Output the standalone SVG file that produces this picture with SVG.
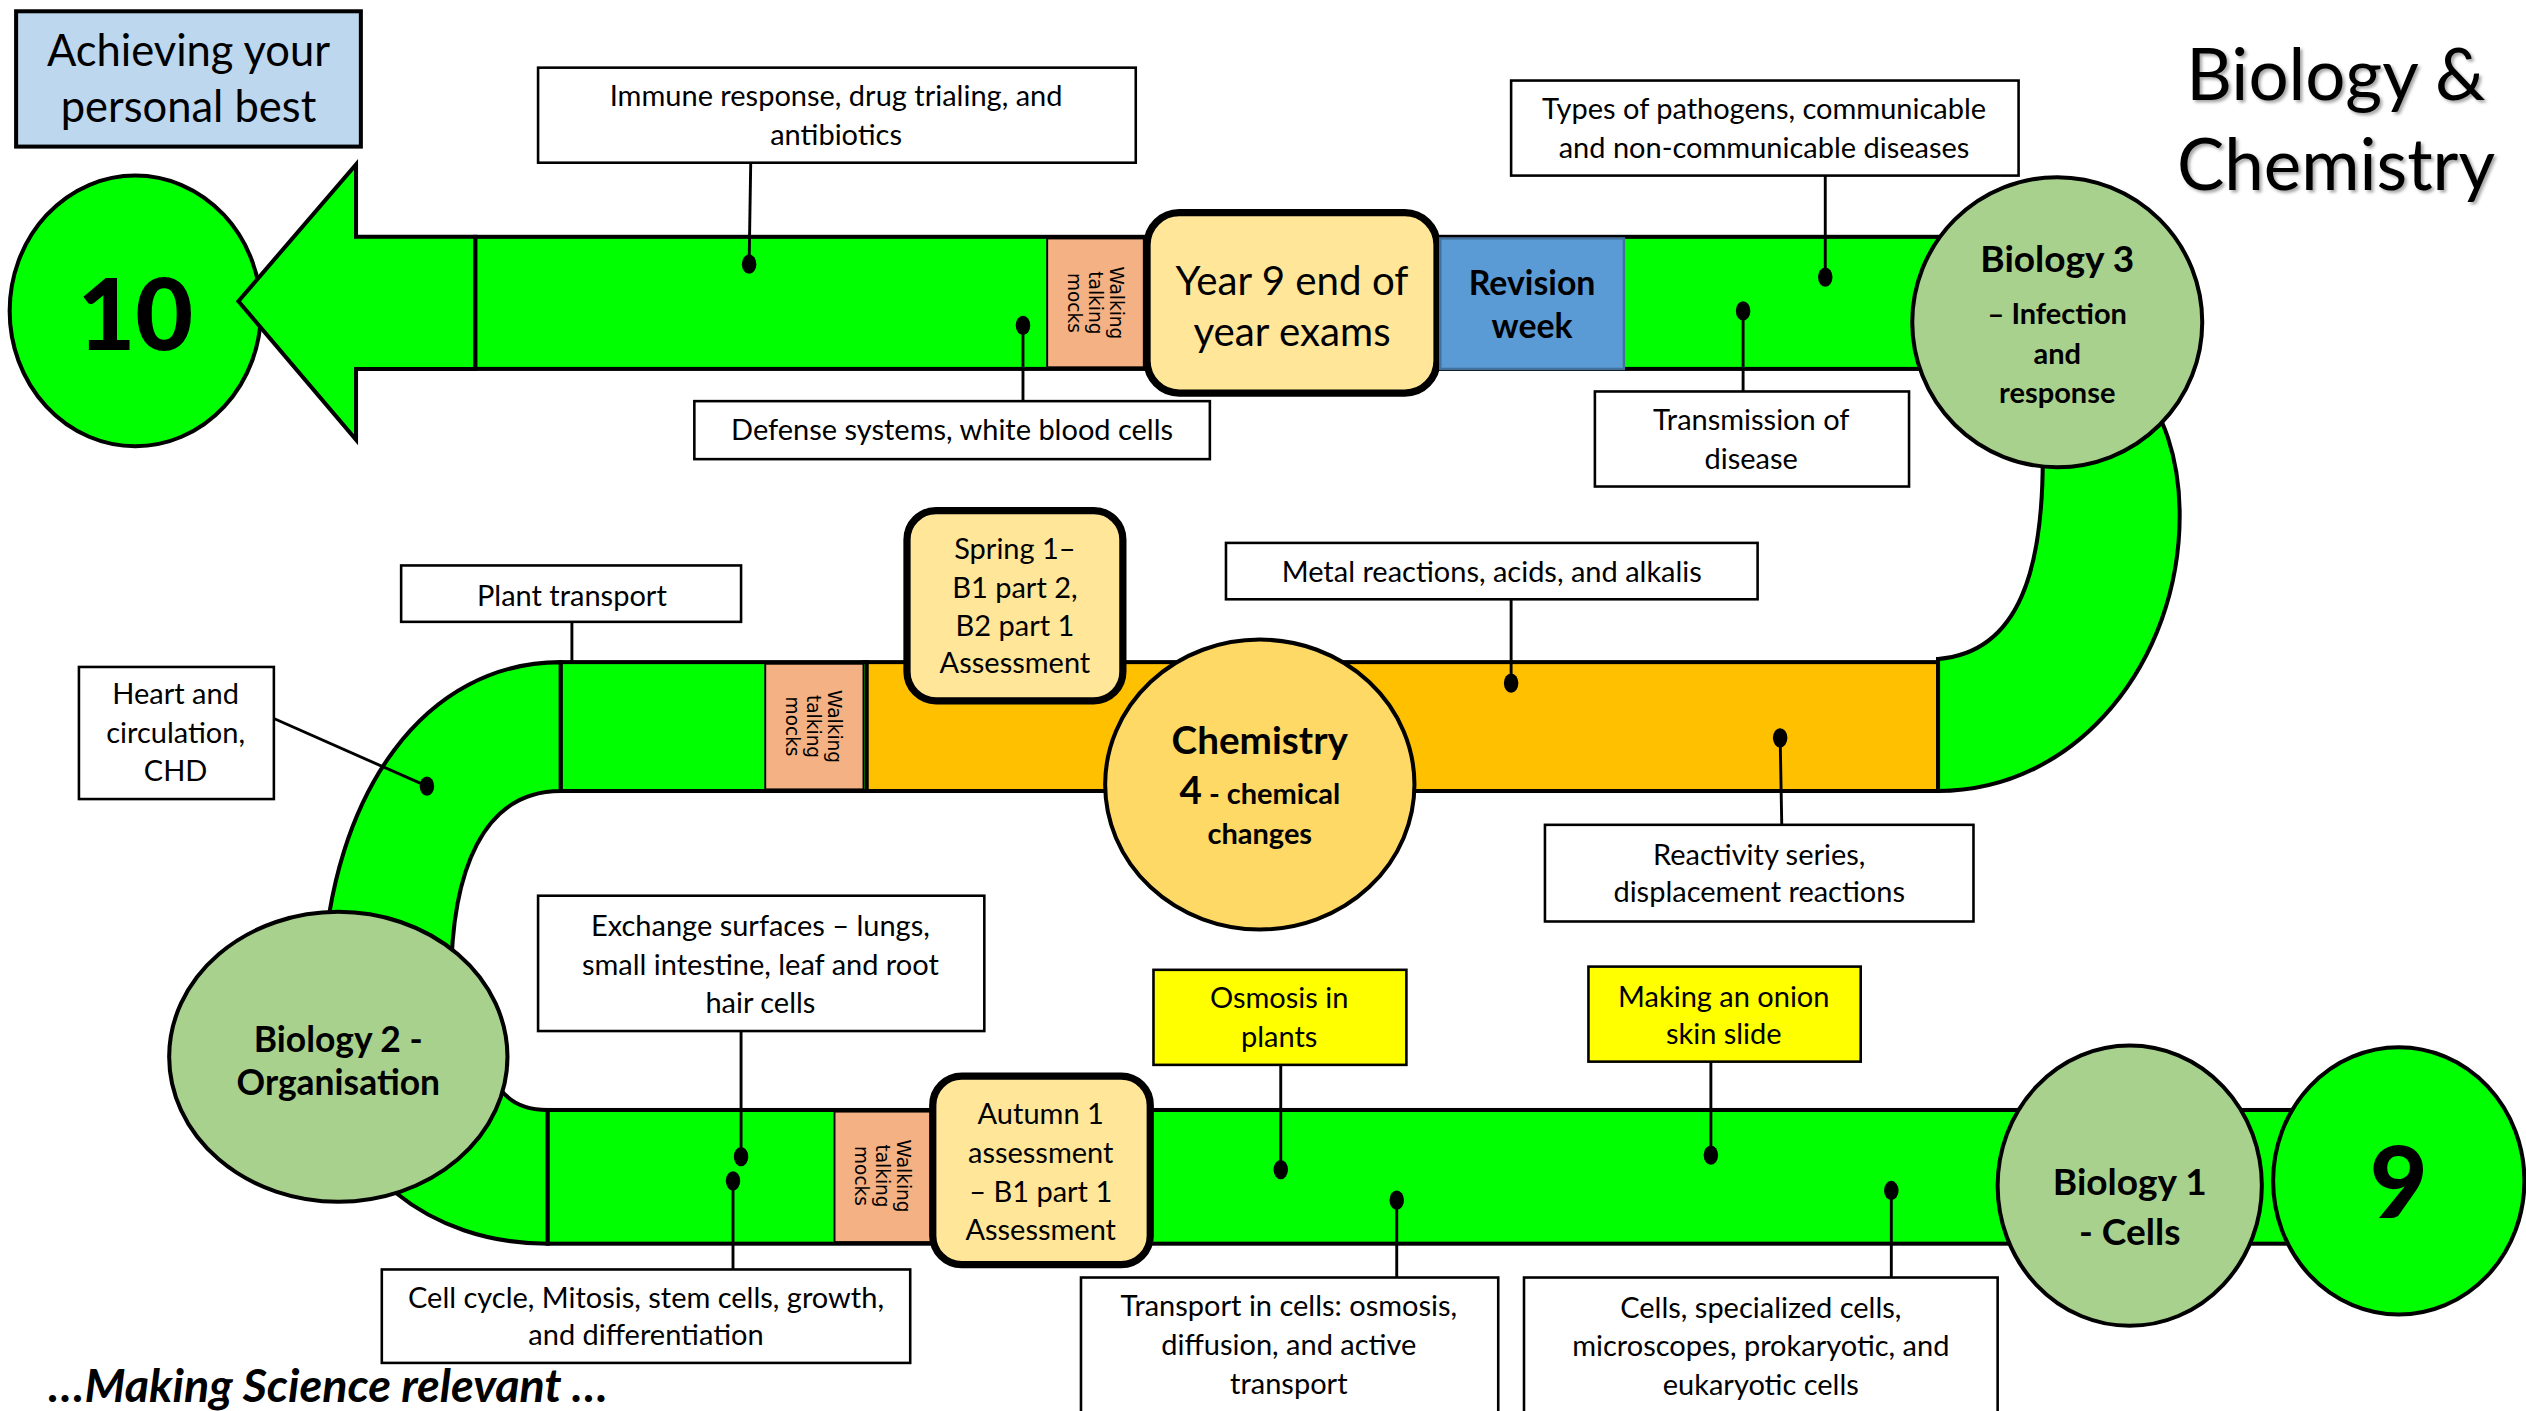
<svg xmlns="http://www.w3.org/2000/svg" width="2526" height="1411" viewBox="0 0 2526 1411">
<defs>
<style>
.t{font-family:Lato,"Liberation Sans",sans-serif;fill:#000}
.c{font-size:18px;text-anchor:middle}
.b{font-weight:bold}
.m{font-family:"DejaVu Sans",Verdana,sans-serif;font-size:11.5px;text-anchor:middle}
.box{fill:#fff;stroke:#000;stroke-width:1.6}
.yel{fill:#FFFF00;stroke:#000;stroke-width:1.6}
.band{stroke:#000;stroke-width:2.5}
.g{fill:#00FF00}
.mock{fill:#F4B183;stroke:#000;stroke-width:1.2}
.asm{fill:#FFE699;stroke:#000;stroke-width:4.5}
.bio{fill:#A9D18E;stroke:#000;stroke-width:2.5}
.ln{stroke:#000;stroke-width:1.8;fill:none}
.dot{fill:#000}
</style>
<filter id="sh" x="-10%" y="-10%" width="130%" height="130%">
<feDropShadow dx="1.5" dy="1.5" stdDeviation="1" flood-color="#000" flood-opacity="0.35"/>
</filter>
</defs>
<rect width="2526" height="1411" fill="#fff"/>
<g transform="scale(1.611)">
<g id="bands">
<rect class="band g" x="295" y="147" width="940" height="82"/>
<path class="band g" d="M1200,229 L1268,285 C1268,350 1255,405 1203,409 L1203,491 C1290,491 1353,410 1353,320 C1353,285 1343,255 1325,235 Z"/>
<rect class="band" fill="#FFC000" x="536" y="411" width="667" height="80"/>
<rect class="band g" x="348" y="411" width="190" height="80"/>
<path class="band g" d="M348,411 C265,411 205,490 200,610 L200,660 C210,725 265,772 340,772 L340,689 C325,689 314,683 308,672 L280,610 C280,540 300,491 348,491 Z"/>
<rect class="band g" x="340" y="689" width="1090" height="83"/>
</g>
<g id="mocks">
<rect class="mock" x="650" y="148" width="60" height="80"/>
<text class="m" transform="translate(680,188) rotate(90)"><tspan x="0" y="-9">Walking</tspan><tspan x="0" y="4">talking</tspan><tspan x="0" y="17">mocks</tspan></text>
<rect class="mock" x="475" y="412" width="61" height="78"/>
<text class="m" transform="translate(505,451) rotate(90)"><tspan x="0" y="-9">Walking</tspan><tspan x="0" y="4">talking</tspan><tspan x="0" y="17">mocks</tspan></text>
<rect class="mock" x="518" y="690" width="60" height="81"/>
<text class="m" transform="translate(548,730) rotate(90)"><tspan x="0" y="-9">Walking</tspan><tspan x="0" y="4">talking</tspan><tspan x="0" y="17">mocks</tspan></text>
</g>
<g id="connectors">
<path class="ln" d="M466,101 L465,164"/><ellipse class="dot" cx="465" cy="164" rx="4.5" ry="6"/>
<path class="ln" d="M635,249 L635,202"/><ellipse class="dot" cx="635" cy="202" rx="4.5" ry="6"/>
<path class="ln" d="M1133,109 L1133,172"/><ellipse class="dot" cx="1133" cy="172" rx="4.5" ry="6"/>
<path class="ln" d="M1082,243 L1082,193"/><ellipse class="dot" cx="1082" cy="193" rx="4.5" ry="6"/>
<path class="ln" d="M938,372 L938,424"/><ellipse class="dot" cx="938" cy="424" rx="4.5" ry="6"/>
<path class="ln" d="M1106,512 L1105,458"/><ellipse class="dot" cx="1105" cy="458" rx="4.5" ry="6"/>
<path class="ln" d="M355,386 L355,411"/>
<path class="ln" d="M170,446 L265,488"/><ellipse class="dot" cx="265" cy="488" rx="4.5" ry="6"/>
<path class="ln" d="M460,640 L460,718"/><ellipse class="dot" cx="460" cy="718" rx="4.5" ry="6"/>
<path class="ln" d="M455,788 L455,733"/><ellipse class="dot" cx="455" cy="733" rx="4.5" ry="6"/>
<path class="ln" d="M795,661 L795,726"/><ellipse class="dot" cx="795" cy="726" rx="4.5" ry="6"/>
<path class="ln" d="M1062,659 L1062,717"/><ellipse class="dot" cx="1062" cy="717" rx="4.5" ry="6"/>
<path class="ln" d="M867,793 L867,745"/><ellipse class="dot" cx="867" cy="745" rx="4.5" ry="6"/>
<path class="ln" d="M1174,793 L1174,739"/><ellipse class="dot" cx="1174" cy="739" rx="4.5" ry="6"/>
</g>
<g id="circle10">
<ellipse class="band g" cx="84" cy="193" rx="78" ry="84"/>
<text class="t" x="84" y="217" font-size="62" font-weight="900" text-anchor="middle">10</text>
</g>
<g id="arrow">
<polygon class="band g" points="221,102 221,147 295,147 295,229 221,229 221,273 148,187"/>
</g>
<g id="achieving">
<rect x="10" y="7" width="214" height="84" fill="#BDD7EE" stroke="#000" stroke-width="2.5"/>
<text class="t" x="117" y="41" font-size="27" text-anchor="middle">Achieving your</text>
<text class="t" x="117" y="76" font-size="27" text-anchor="middle">personal best</text>
</g>
<g id="title" filter="url(#sh)">
<text class="t" x="1450" y="62" font-size="44" text-anchor="middle">Biology &amp;</text>
<text class="t" x="1450" y="118" font-size="44" text-anchor="middle">Chemistry</text>
</g>
<g id="immune"><rect class="box" x="334" y="42" width="371" height="59"/>
<text class="t c" x="519" y="66">Immune response, drug trialing, and</text><text class="t c" x="519" y="90">antibiotics</text></g>
<g id="defense"><rect class="box" x="431" y="249" width="320" height="36"/>
<text class="t c" x="591" y="273">Defense systems, white blood cells</text></g>
<g id="year9"><rect class="asm" x="712" y="132" width="180" height="112" rx="20"/>
<text class="t" x="802" y="183" font-size="25" text-anchor="middle">Year 9 end of</text><text class="t" x="802" y="215" font-size="25" text-anchor="middle">year exams</text></g>
<g id="revision"><rect x="894" y="148" width="114" height="81" fill="#5B9BD5" stroke="#41719C" stroke-width="1.5"/>
<text class="t b" x="951" y="183" font-size="21" text-anchor="middle">Revision</text><text class="t b" x="951" y="210" font-size="21" text-anchor="middle">week</text></g>
<g id="types"><rect class="box" x="938" y="50" width="315" height="59"/>
<text class="t c" x="1095" y="74">Types of pathogens, communicable</text><text class="t c" x="1095" y="98">and non-communicable diseases</text></g>
<g id="transmission"><rect class="box" x="990" y="243" width="195" height="59"/>
<text class="t c" x="1087" y="267">Transmission of</text><text class="t c" x="1087" y="291">disease</text></g>
<g id="biology3"><ellipse class="bio" cx="1277" cy="200" rx="90" ry="90"/>
<text class="t b" x="1277" y="169" font-size="23" text-anchor="middle">Biology 3</text>
<text class="t b" x="1277" y="201" font-size="18" text-anchor="middle">– Infection</text>
<text class="t b" x="1277" y="226" font-size="18" text-anchor="middle">and</text>
<text class="t b" x="1277" y="250" font-size="18" text-anchor="middle">response</text></g>
<g id="plant"><rect class="box" x="249" y="351" width="211" height="35"/>
<text class="t c" x="355" y="376">Plant transport</text></g>
<g id="heart"><rect class="box" x="49" y="414" width="121" height="82"/>
<text class="t c" x="109" y="437">Heart and</text><text class="t c" x="109" y="461">circulation,</text><text class="t c" x="109" y="485">CHD</text></g>
<g id="spring"><rect class="asm" x="563" y="317" width="134" height="118" rx="18"/>
<text class="t" x="630" y="347" font-size="18" text-anchor="middle">Spring 1–</text>
<text class="t" x="630" y="371" font-size="18" text-anchor="middle">B1 part 2,</text>
<text class="t" x="630" y="395" font-size="18" text-anchor="middle">B2 part 1</text>
<text class="t" x="630" y="418" font-size="18" text-anchor="middle">Assessment</text></g>
<g id="metal"><rect class="box" x="761" y="337" width="330" height="35"/>
<text class="t c" x="926" y="361">Metal reactions, acids, and alkalis</text></g>
<g id="chemistry4"><ellipse cx="782" cy="487" rx="96" ry="90" fill="#FFD966" stroke="#000" stroke-width="2.5"/>
<text class="t b" x="782" y="468" font-size="24" text-anchor="middle">Chemistry</text>
<text class="t b" x="782" y="499" font-size="18" text-anchor="middle"><tspan font-size="24">4</tspan> - chemical</text>
<text class="t b" x="782" y="524" font-size="18" text-anchor="middle">changes</text></g>
<g id="reactivity"><rect class="box" x="959" y="512" width="266" height="60"/>
<text class="t c" x="1092" y="537">Reactivity series,</text><text class="t c" x="1092" y="560">displacement reactions</text></g>
<g id="exchange"><rect class="box" x="334" y="556" width="277" height="84"/>
<text class="t c" x="472" y="581">Exchange surfaces – lungs,</text><text class="t c" x="472" y="605">small intestine, leaf and root</text><text class="t c" x="472" y="629">hair cells</text></g>
<g id="biology2"><ellipse class="bio" cx="210" cy="656" rx="105" ry="90"/>
<text class="t b" x="210" y="653" font-size="22" text-anchor="middle">Biology 2 -</text>
<text class="t b" x="210" y="680" font-size="22" text-anchor="middle">Organisation</text></g>
<g id="osmosis"><rect class="yel" x="716" y="602" width="157" height="59"/>
<text class="t c" x="794" y="626">Osmosis in</text><text class="t c" x="794" y="650">plants</text></g>
<g id="onion"><rect class="yel" x="986" y="600" width="169" height="59"/>
<text class="t c" x="1070" y="625">Making an onion</text><text class="t c" x="1070" y="648">skin slide</text></g>
<g id="autumn"><rect class="asm" x="579" y="668" width="135" height="117" rx="18"/>
<text class="t" x="646" y="698" font-size="18" text-anchor="middle">Autumn 1</text>
<text class="t" x="646" y="722" font-size="18" text-anchor="middle">assessment</text>
<text class="t" x="646" y="746" font-size="18" text-anchor="middle">– B1 part 1</text>
<text class="t" x="646" y="770" font-size="18" text-anchor="middle">Assessment</text></g>
<g id="cellcycle"><rect class="box" x="237" y="788" width="328" height="58"/>
<text class="t c" x="401" y="812">Cell cycle, Mitosis, stem cells, growth,</text><text class="t c" x="401" y="835">and differentiation</text></g>
<g id="transport"><rect class="box" x="671" y="793" width="259" height="90"/>
<text class="t c" x="800" y="817">Transport in cells: osmosis,</text><text class="t c" x="800" y="841">diffusion, and active</text><text class="t c" x="800" y="865">transport</text></g>
<g id="cells"><rect class="box" x="946" y="793" width="294" height="90"/>
<text class="t c" x="1093" y="818">Cells, specialized cells,</text><text class="t c" x="1093" y="842">microscopes, prokaryotic, and</text><text class="t c" x="1093" y="866">eukaryotic cells</text></g>
<g id="biology1"><ellipse class="bio" cx="1322" cy="736" rx="82" ry="87"/>
<text class="t b" x="1322" y="742" font-size="23" text-anchor="middle">Biology 1</text>
<text class="t b" x="1322" y="773" font-size="23" text-anchor="middle">- Cells</text></g>
<g id="circle9"><ellipse class="band g" cx="1489" cy="733" rx="78" ry="83"/>
<text class="t" x="1489" y="756" font-size="62" font-weight="900" text-anchor="middle">9</text></g>
<g id="tagline"><text class="t b" x="30" y="870" font-size="29" font-style="italic">…Making Science relevant …</text></g>
</g>
</svg>
